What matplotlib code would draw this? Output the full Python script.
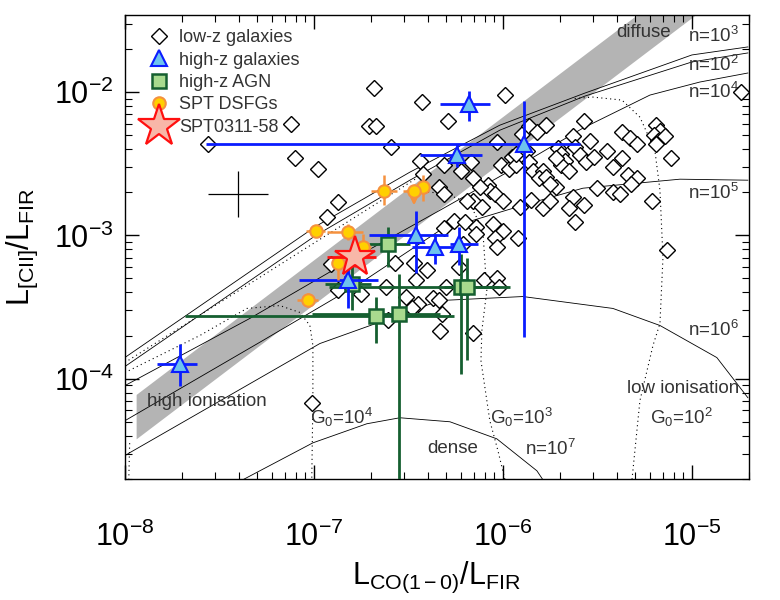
import matplotlib
matplotlib.use("Agg")
import matplotlib.pyplot as plt
from matplotlib.lines import Line2D
import numpy as np

plt.rcParams['font.family'] = ['Liberation Sans', 'DejaVu Sans']
plt.rcParams['mathtext.fontset'] = 'custom'
plt.rcParams['mathtext.rm'] = 'Liberation Sans'
plt.rcParams['mathtext.it'] = 'Liberation Sans'

# all values are log10 of the ratios
# low-z galaxies
lowz_logx = [-6.68, -6.43, -5.99, -7.12, -6.71, -6.67, -7.56, -6.59, -7.10, -6.44,
             -6.98, -6.42, -6.29, -6.31, -6.34, -6.31, -6.87, -6.93, -6.22, -6.17,
             -6.16, -6.03, -5.90, -5.86, -5.82, -5.77, -6.01, -5.97, -5.95, -5.93,
             -5.93, -5.87, -5.86, -5.84, -5.79, -5.81, -5.77, -5.71, -5.69, -5.67,
             -5.69, -5.72, -5.63, -5.62, -5.59, -5.56, -5.52, -5.65, -5.57, -5.54,
             -5.45, -5.37, -5.33, -5.29, -5.37, -5.42, -5.34, -5.29, -5.19, -5.17,
             -5.20, -5.18, -5.14, -5.19, -5.11, -4.74, -5.50, -5.42, -5.38, -5.32,
             -5.21, -5.13, -6.08, -6.07, -6.12, -6.04, -6.00, -6.16, -6.11, -6.19,
             -5.91, -5.85, -5.79, -5.75, -5.72, -5.75, -5.63, -5.65, -5.57, -5.62,
             -6.26, -6.20, -6.14, -6.14, -6.05, -6.00, -6.04, -6.03, -5.92, -6.21,
             -6.31, -6.57, -6.47, -6.40, -6.46, -6.91, -6.87, -6.75, -6.62, -6.51,
             -6.45, -6.37, -6.32, -6.33, -6.61, -6.48, -6.30, -6.23, -6.10, -6.03,
             -6.02, -6.16, -7.01, -6.34]
lowz_logy = [-1.97, -2.07, -2.02, -2.22, -2.24, -2.24, -2.36, -2.38, -2.46, -2.48,
             -2.54, -2.57, -2.20, -2.51, -2.66, -2.71, -2.77, -2.87, -2.55, -2.49,
             -2.60, -2.35, -2.29, -2.24, -2.28, -2.23, -2.51, -2.54, -2.45, -2.51,
             -2.43, -2.41, -2.49, -2.55, -2.55, -2.60, -2.59, -2.39, -2.43, -2.48,
             -2.51, -2.46, -2.31, -2.38, -2.44, -2.49, -2.45, -2.55, -2.20, -2.34,
             -2.41, -2.28, -2.32, -2.36, -2.46, -2.52, -2.58, -2.60, -2.23, -2.27,
             -2.30, -2.34, -2.31, -2.36, -2.46, -2.00, -2.67, -2.70, -2.71, -2.64,
             -2.76, -3.10, -2.65, -2.69, -2.66, -2.71, -2.76, -2.76, -2.80, -2.76,
             -2.80, -2.75, -2.81, -2.76, -2.66, -2.64, -2.73, -2.81, -2.79, -2.91,
             -2.90, -2.91, -2.94, -2.99, -2.92, -2.97, -3.02, -3.08, -3.02, -3.06,
             -2.95, -3.19, -3.19, -3.24, -3.31, -3.20, -3.38, -3.41, -3.36, -3.43,
             -3.48, -3.44, -3.55, -3.67, -3.59, -3.51, -3.36, -3.22, -3.31, -3.30,
             -3.36, -3.68, -4.17, -3.45]

# high-z galaxies: value, lower, upper
hiz_logx = [-6.18, -6.24, -5.89, -6.46, -6.36, -6.23, -6.82, -7.71]
hiz_logx_lo = [-6.33, -6.44, -7.57, -6.71, -6.48, -6.28, -7.08, -7.83]
hiz_logx_hi = [-6.07, -6.11, -5.59, -6.29, -6.23, -6.13, -6.66, -7.62]
hiz_logy = [-2.08, -2.44, -2.36, -3.00, -3.08, -3.06, -3.31, -3.90]
hiz_logy_lo = [-2.20, -2.52, -3.71, -3.26, -3.20, -3.21, -3.51, -4.05]
hiz_logy_hi = [-1.99, -2.36, -2.06, -2.83, -2.99, -2.94, -3.19, -3.76]

# high-z AGN
agn_logx = [-6.61, -6.80, -6.67, -6.55, -6.22, -6.19]
agn_logx_lo = [-6.71, -6.94, -7.68, -7.01, -6.92, -6.31]
agn_logx_hi = [-6.49, -6.70, -6.26, -6.33, -5.96, -6.02]
agn_logy = [-3.06, -3.34, -3.56, -3.55, -3.36, -3.36]
agn_logy_lo = [-3.22, -3.52, -3.75, -5.00, -3.97, -3.87]
agn_logy_hi = [-2.94, -3.21, -3.43, -3.27, -3.13, -3.16]

# SPT DSFGs
spt_logx = [-6.63, -6.42, -6.99, -6.82, -6.74, -6.87, -7.03]
spt_logx_lo = [-6.70, -6.45, -7.04, -6.93, -6.79, -6.90, -7.09]
spt_logx_hi = [-6.56, -6.39, -6.94, -6.74, -6.70, -6.81, -6.98]
spt_logy = [-2.69, -2.66, -2.97, -2.98, -3.08, -3.19, -3.45]
spt_logy_lo = [-2.79, -2.76, -3.01, -3.03, -3.15, -3.31, -3.50]
spt_logy_hi = [-2.58, -2.58, -2.93, -2.92, -2.99, -3.14, -3.40]
# SPT DSFG with [CII] upper limit
lim_logx, lim_logx_lo, lim_logx_hi = -6.47, -6.53, -6.40
lim_logy, lim_logy_end = -2.69, -2.81

# SPT0311-58
star_logx, star_logx_lo, star_logx_hi = -6.78, -6.93, -6.67
star_logy, star_logy_lo, star_logy_hi = -3.15, -3.22, -3.08

# typical uncertainty cross
cross_logx, cross_logy, cross_err = -7.40, -2.71, 0.16

# grey band: log([CII]/CO) limits
band_lo, band_hi = 3.52, 3.83
band_logx = [-7.94, -4.90]

# PDR model tracks (log x, log y)
n_tracks = {
    '2': ([-8.0, -6.989, -6.492, -6.016, -5.566, -5.0, -4.704],
          [-3.916, -3.0, -2.615, -2.266, -2.028, -1.790, -1.727]),
    '3': ([-8.0, -6.989, -6.492, -6.016, -5.566, -5.0, -4.704],
          [-3.853, -2.937, -2.559, -2.231, -2.007, -1.741, -1.685]),
    '4': ([-8.0, -7.339, -6.810, -6.333, -5.910, -5.577, -5.222, -4.958, -4.704],
          [-4.049, -3.580, -3.175, -2.825, -2.510, -2.252, -2.021, -1.930, -1.867]),
    '5': ([-8.0, -7.270, -6.757, -6.333, -5.894, -5.577, -5.063, -4.704],
          [-4.294, -3.734, -3.336, -2.965, -2.790, -2.671, -2.608, -2.615]),
    '6': ([-8.0, -7.974, -6.968, -6.333, -5.894, -5.418, -5.169, -4.868, -4.704],
          [-4.538, -4.517, -3.755, -3.455, -3.427, -3.510, -3.629, -3.853, -4.133]),
    '7': ([-7.376, -7.005, -6.720, -6.545, -6.280, -6.032, -5.820, -5.788],
          [-4.706, -4.448, -4.315, -4.273, -4.301, -4.420, -4.643, -4.706]),
}
g0_tracks = {
    '4': ([-8.0, -7.603, -7.354, -7.180, -7.074, -7.021, -7.005, -7.005, -7.011],
          [-3.958, -3.699, -3.510, -3.490, -3.538, -3.629, -3.769, -4.154, -4.706]),
    '3': ([-6.466, -6.296, -6.175, -6.106, -6.085, -6.111, -6.116, -6.069, -6.026, -5.989],
          [-2.685, -2.713, -2.776, -2.965, -3.385, -3.664, -3.874, -4.294, -4.503, -4.706]),
    '2': ([-5.62, -5.524, -5.370, -5.275, -5.196, -5.169, -5.153, -5.169, -5.206, -5.275, -5.317],
          [-2.045, -2.035, -2.056, -2.175, -2.406, -2.685, -3.154, -3.615, -3.769, -4.154, -4.706]),
    'diag': ([-8.0, -6.439], [-3.888, -2.587]),
    'low': ([-7.979, -7.974], [-4.706, -4.434]),
}

# text labels (x, y, string)
labels_txt = [
    (4.0e-6, 2.59e-2, 'diffuse'),
    (9.5e-6, 2.47e-2, r'n=10$^3$'),
    (9.5e-6, 1.55e-2, r'n=10$^2$'),
    (9.5e-6, 1.0e-2, r'n=10$^4$'),
    (9.5e-6, 1.97e-3, r'n=10$^5$'),
    (9.5e-6, 2.17e-4, r'n=10$^6$'),
    (1.31e-8, 6.9e-5, 'high ionisation'),
    (4.53e-6, 8.5e-5, 'low ionisation'),
    (9.5e-8, 5.33e-5, r'G$_0$=10$^4$'),
    (8.5e-7, 5.33e-5, r'G$_0$=10$^3$'),
    (6.0e-6, 5.33e-5, r'G$_0$=10$^2$'),
    (4.0e-7, 3.24e-5, 'dense'),
    (1.31e-6, 3.24e-5, r'n=10$^7$'),
]


def p(a):
    return np.power(10.0, np.asarray(a, dtype=float))


def errs(v, lo, hi):
    v, lo, hi = p(v), p(lo), p(hi)
    return v, np.vstack([v - lo, hi - v])


fig = plt.figure(figsize=(7.8, 6.0), dpi=100)
ax = fig.add_axes([0.160, 0.202, 0.800, 0.773])
ax.set_xscale('log')
ax.set_yscale('log')
ax.set_xlim(1e-8, 2e-5)
ax.set_ylim(2e-5, 3.45e-2)

# grey band
bx = p(np.linspace(band_logx[0], band_logx[1], 50))
ax.fill_between(bx, bx * p(band_lo), bx * p(band_hi), color='#b4b4b4', lw=0, zorder=1)

# model tracks
for k, (lx, ly) in n_tracks.items():
    ax.plot(p(lx), p(ly), color='k', lw=0.6, zorder=2)
for k, (lx, ly) in g0_tracks.items():
    ax.plot(p(lx), p(ly), color='k', lw=0.8, ls=(0, (1, 3)), zorder=2)

# typical error cross
ax.errorbar(p(cross_logx), p(cross_logy),
            xerr=[[p(cross_logx) - p(cross_logx - cross_err)], [p(cross_logx + cross_err) - p(cross_logx)]],
            yerr=[[p(cross_logy) - p(cross_logy - cross_err)], [p(cross_logy + cross_err) - p(cross_logy)]],
            fmt='none', ecolor='k', elinewidth=0.9, zorder=3)

# low-z galaxies
ax.plot(p(lowz_logx), p(lowz_logy), ls='none', marker='D', ms=8.5, mfc='white',
        mec='black', mew=1.0, zorder=4)

# high-z AGN
x, xe = errs(agn_logx, agn_logx_lo, agn_logx_hi)
y, ye = errs(agn_logy, agn_logy_lo, agn_logy_hi)
ax.errorbar(x, y, xerr=xe, yerr=ye, fmt='s', ms=10, mfc='#a8da8e', mec='#155f30',
            mew=1.8, ecolor='#155f30', elinewidth=2.0, capsize=0, zorder=6)

# high-z galaxies
x, xe = errs(hiz_logx, hiz_logx_lo, hiz_logx_hi)
y, ye = errs(hiz_logy, hiz_logy_lo, hiz_logy_hi)
ax.errorbar(x, y, xerr=xe, yerr=ye, fmt='^', ms=11, mfc='#6ec3ee', mec='#0a1cff',
            mew=1.5, ecolor='#0a1cff', elinewidth=2.0, capsize=0, zorder=7)

# SPT DSFGs
x, xe = errs(spt_logx, spt_logx_lo, spt_logx_hi)
y, ye = errs(spt_logy, spt_logy_lo, spt_logy_hi)
ax.errorbar(x, y, xerr=xe, yerr=ye, fmt='o', ms=9, mfc='#ffd000', mec='#f5913e',
            mew=1.5, ecolor='#f5913e', elinewidth=1.8, capsize=0, zorder=8)
ax.plot([p(lim_logx_lo), p(lim_logx_hi)], [p(lim_logy), p(lim_logy)], color='#f5913e',
        lw=1.8, ls=(0, (3, 2)), zorder=8)
ax.annotate('', xy=(p(lim_logx), p(lim_logy_end)), xytext=(p(lim_logx), p(lim_logy)),
            arrowprops=dict(arrowstyle='->', color='#f5913e', lw=1.8), zorder=8)
ax.plot(p(lim_logx), p(lim_logy), 'o', ms=9, mfc='#ffd000', mec='#f5913e', mew=1.5, zorder=9)

# SPT0311-58
x, xe = errs([star_logx], [star_logx_lo], [star_logx_hi])
y, ye = errs([star_logy], [star_logy_lo], [star_logy_hi])
ax.errorbar(x, y, xerr=xe, yerr=ye, fmt='*', ms=30, mfc='#f8b7a8', mec='#ff1010',
            mew=1.6, ecolor='#ff1010', elinewidth=2.0, capsize=0, zorder=10)

# annotations
for tx, ty, s in labels_txt:
    ax.text(tx, ty, s, fontsize=13.5, color='#333333', va='center', ha='left')

# legend
handles = [
    Line2D([], [], ls='none', marker='D', ms=8.5, mfc='white', mec='k', mew=1.0),
    Line2D([], [], ls='none', marker='^', ms=11, mfc='#6ec3ee', mec='#0a1cff', mew=1.5),
    Line2D([], [], ls='none', marker='s', ms=10, mfc='#a8da8e', mec='#155f30', mew=1.8),
    Line2D([], [], ls='none', marker='o', ms=9, mfc='#ffd000', mec='#f5913e', mew=1.5),
    Line2D([], [], ls='none', marker='*', ms=32, mfc='#f8b7a8', mec='#ff1010', mew=1.6),
]
names = ['low-z galaxies', 'high-z galaxies', 'high-z AGN', 'SPT DSFGs', 'SPT0311-58']
ax.legend(handles, names, loc='upper left', frameon=False, fontsize=13,
          handletextpad=0.3, labelspacing=0.3, borderaxespad=0.0,
          bbox_to_anchor=(0.02, 0.985), labelcolor='#333333', handlelength=1.6)

ax.tick_params(which='both', direction='in', top=True, right=True, labelsize=22)
ax.tick_params(which='major', length=10, width=1)
ax.tick_params(which='minor', length=5, width=0.8)
ax.tick_params(axis='x', pad=31)
ax.tick_params(axis='y', pad=8)
for s in ax.spines.values():
    s.set_linewidth(1.0)

ax.set_xlabel(r'$\mathregular{L_{CO(1-0)}/L_{FIR}}$', fontsize=22, labelpad=5)
ax.set_ylabel(r'$\mathregular{L_{[CII]}/L_{FIR}}$', fontsize=22, labelpad=10)

fig.savefig('out.png', dpi=100)
